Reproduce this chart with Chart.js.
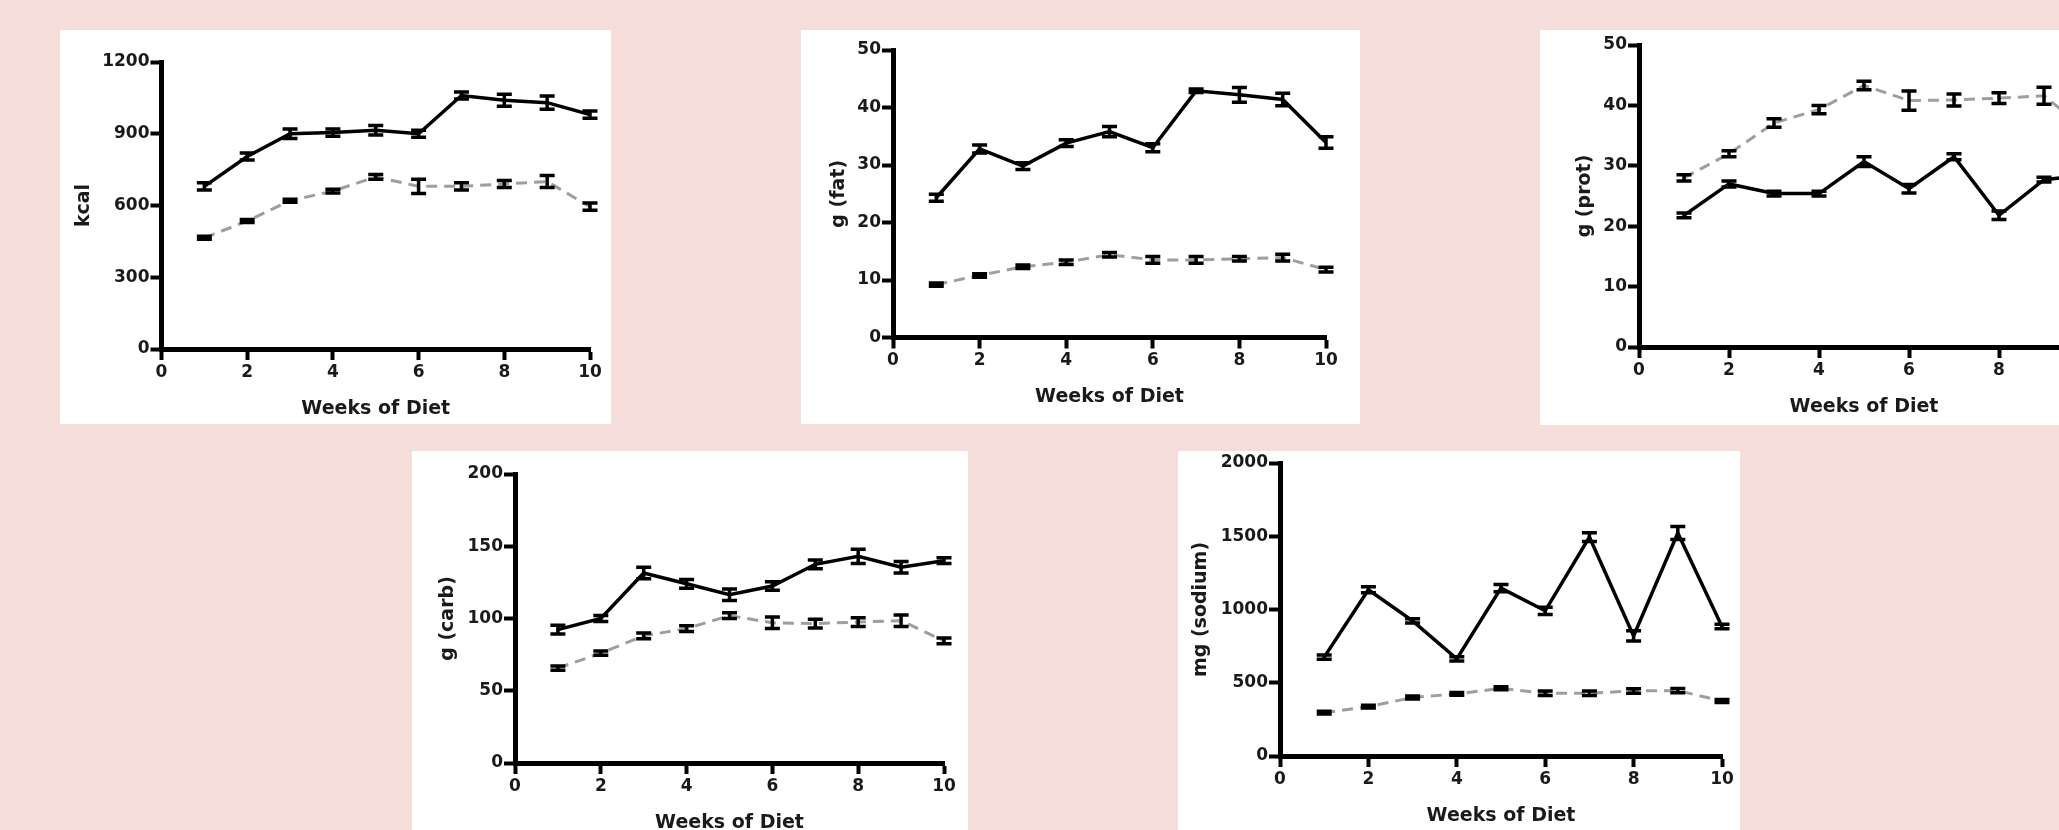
<!DOCTYPE html>
<html>
<head>
<meta charset="utf-8">
<script src="https://cdn.jsdelivr.net/npm/chart.js@4.4.0/dist/chart.umd.min.js"></script>
<style>
  html, body { margin: 0; padding: 0; }
  body { width: 2059px; height: 830px; overflow: hidden; background: #f5ddd9; position: relative; }
  .panel { position: absolute; background: #fff; overflow: hidden; }
  .panel canvas { display: block; }
</style>
</head>
<body>
<div class="panel" style="left:60px;top:30px;width:551px;height:394px"><canvas id="c-kcal" width="551" height="394"></canvas></div>
<div class="panel" style="left:801px;top:30px;width:559px;height:394px"><canvas id="c-fat" width="559" height="394"></canvas></div>
<div class="panel" style="left:1540px;top:30px;width:570px;height:395px"><canvas id="c-prot" width="570" height="395"></canvas></div>
<div class="panel" style="left:412px;top:451px;width:556px;height:400px"><canvas id="c-carb" width="556" height="400"></canvas></div>
<div class="panel" style="left:1178px;top:451px;width:562px;height:400px"><canvas id="c-sodium" width="562" height="400"></canvas></div>
<script>
// weeks on the x axis
const weeks = [1, 2, 3, 4, 5, 6, 7, 8, 9, 10];

// kcal
const kcalSolid     = [680, 805, 900, 905, 915, 900, 1060, 1040, 1030, 980];
const kcalSolidErr  = [15, 15, 20, 15, 20, 15, 15, 25, 28, 15];
const kcalDashed    = [465, 535, 620, 660, 720, 680, 680, 690, 700, 595];
const kcalDashedErr = [6, 6, 6, 8, 10, 30, 15, 15, 25, 15];

// g (fat)
const fatSolid     = [24.3, 32.8, 29.8, 33.8, 35.8, 33.0, 42.9, 42.2, 41.4, 33.9];
const fatSolidErr  = [0.6, 0.7, 0.6, 0.6, 0.9, 0.7, 0.3, 1.3, 1.1, 1.0];
const fatDashed    = [9.2, 10.8, 12.3, 13.1, 14.4, 13.5, 13.5, 13.7, 13.9, 11.8];
const fatDashedErr = [0.3, 0.3, 0.3, 0.4, 0.4, 0.6, 0.6, 0.4, 0.6, 0.4];

// g (prot)
const protSolid     = [21.8, 27.0, 25.4, 25.4, 30.7, 26.2, 31.5, 21.8, 27.7, 28.5];
const protSolidErr  = [0.4, 0.5, 0.4, 0.4, 0.8, 0.7, 0.5, 0.7, 0.4, 0.4];
const protDashed    = [28.0, 32.0, 37.1, 39.3, 43.3, 40.8, 40.9, 41.2, 41.6, 35.5];
const protDashedErr = [0.5, 0.5, 0.7, 0.7, 0.7, 1.6, 1.0, 0.9, 1.4, 1.0];

// g (carb)
const carbSolid     = [92.3, 100, 131.5, 124, 116.5, 122.5, 137.5, 143, 135.5, 140];
const carbSolidErr  = [3, 2, 4, 3, 4, 3, 3, 5, 4, 2];
const carbDashed    = [65.7, 76, 88, 93, 102, 97, 96.5, 97.5, 98.5, 84.5];
const carbDashedErr = [1.5, 1.5, 2, 2, 2, 4, 3, 3, 4, 2];

// mg (sodium)
const sodiumSolid     = [675, 1135, 922, 663, 1146, 991, 1494, 820, 1522, 884];
const sodiumSolidErr  = [15, 20, 15, 15, 25, 25, 30, 35, 45, 15];
const sodiumDashed    = [296, 337, 399, 424, 462, 428, 428, 444, 446, 376];
const sodiumDashedErr = [10, 10, 10, 10, 10, 15, 15, 15, 15, 10];

// axis ranges: [max, step]
const xRange      = [10, 2];
const kcalRange   = [1200, 300];
const fatRange    = [50, 10];
const protRange   = [50, 10];
const carbRange   = [200, 50];
const sodiumRange = [2000, 500];

const xTitle = 'Weeks of Diet';

const toPoints = (vals) => vals.map((v, i) => ({ x: weeks[i], y: v }));

// draws vertical error bars with caps, from the y scale
const errorBars = {
    id: 'errorBars',
    afterDatasetsDraw(chart) {
        const ctx = chart.ctx;
        const yScale = chart.scales.y;
        chart.data.datasets.forEach((ds, i) => {
            if (!ds.errors) return;
            const meta = chart.getDatasetMeta(i);
            ctx.save();
            ctx.strokeStyle = '#000';
            ctx.lineWidth = 3.5;
            meta.data.forEach((pt, j) => {
                const v = ds.data[j].y;
                const e = ds.errors[j];
                const top = yScale.getPixelForValue(v + e);
                const bot = yScale.getPixelForValue(v - e);
                ctx.beginPath();
                ctx.moveTo(pt.x, top);
                ctx.lineTo(pt.x, bot);
                ctx.moveTo(pt.x - 7.5, top);
                ctx.lineTo(pt.x + 7.5, top);
                ctx.moveTo(pt.x - 7.5, bot);
                ctx.lineTo(pt.x + 7.5, bot);
                ctx.stroke();
            });
            ctx.restore();
        });
    }
};

const tickFont = { family: 'DejaVu Sans', weight: 'bold', size: 17 };
const titleFont = { family: 'DejaVu Sans', weight: 'bold', size: 19 };

function axisGrid() {
    return {
        drawOnChartArea: false,
        drawTicks: true,
        tickLength: 11,
        tickWidth: 4,
        tickColor: '#000',
    };
}

function panelChart(id, yTitle, range, solid, solidErr, dashed, dashedErr, box) {
    new Chart(
        document.getElementById(id),
        {
            type: 'line',
            data: {
                datasets: [
                    {
                        data: toPoints(solid),
                        errors: solidErr,
                        borderColor: '#000',
                        borderWidth: 3.5,
                        pointRadius: 0,
                    },
                    {
                        data: toPoints(dashed),
                        errors: dashedErr,
                        borderColor: '#9e9e9e',
                        borderWidth: 3,
                        borderDash: [11, 7],
                        pointRadius: 0,
                    }
                ]
            },
            options: {
                responsive: false,
                animation: false,
                events: [],
                layout: {
                    padding: { left: 0, top: box.top, right: box.right, bottom: box.bottom }
                },
                plugins: {
                    legend: { display: false },
                    tooltip: { enabled: false }
                },
                scales: {
                    x: {
                        type: 'linear',
                        min: 0,
                        max: xRange[0],
                        ticks: { stepSize: xRange[1], color: '#1a1a1a', font: tickFont, padding: 2, callback: (v) => String(v) },
                        grid: axisGrid(),
                        border: { display: true, color: '#000', width: 5 },
                        title: { display: true, text: xTitle, color: '#1a1a1a', font: titleFont, padding: { top: 0, bottom: 3.6 } },
                        afterFit: (s) => { s.height = 75; }
                    },
                    y: {
                        min: 0,
                        max: range[0],
                        ticks: { stepSize: range[1], color: '#1a1a1a', font: tickFont, padding: 1, callback: (v) => String(v) },
                        grid: axisGrid(),
                        border: { display: true, color: '#000', width: 5 },
                        title: { display: true, text: yTitle, color: '#1a1a1a', font: titleFont, padding: { top: box.titleGap, bottom: 0 } },
                        afterFit: (s) => { s.width = box.left; }
                    }
                }
            },
            plugins: [errorBars]
        }
    );
}

panelChart('c-kcal', 'kcal', kcalRange, kcalSolid, kcalSolidErr, kcalDashed, kcalDashedErr,
    { left: 101.5, top: 32, right: 21, bottom: 0, titleGap: 12.6 });
panelChart('c-fat', 'g (fat)', fatRange, fatSolid, fatSolidErr, fatDashed, fatDashedErr,
    { left: 92, top: 20, right: 34, bottom: 11.5, titleGap: 26.6 });
panelChart('c-prot', 'g (prot)', protRange, protSolid, protSolidErr, protDashed, protDashedErr,
    { left: 99, top: 15, right: 21, bottom: 3, titleGap: 33.6 });
panelChart('c-carb', 'g (carb)', carbRange, carbSolid, carbSolidErr, carbDashed, carbDashedErr,
    { left: 103, top: 23, right: 24, bottom: 13, titleGap: 24.6 });
panelChart('c-sodium', 'mg (sodium)', sodiumRange, sodiumSolid, sodiumSolidErr, sodiumDashed, sodiumDashedErr,
    { left: 102, top: 12, right: 18, bottom: 20, titleGap: 11.6 });
</script>
</body>
</html>
